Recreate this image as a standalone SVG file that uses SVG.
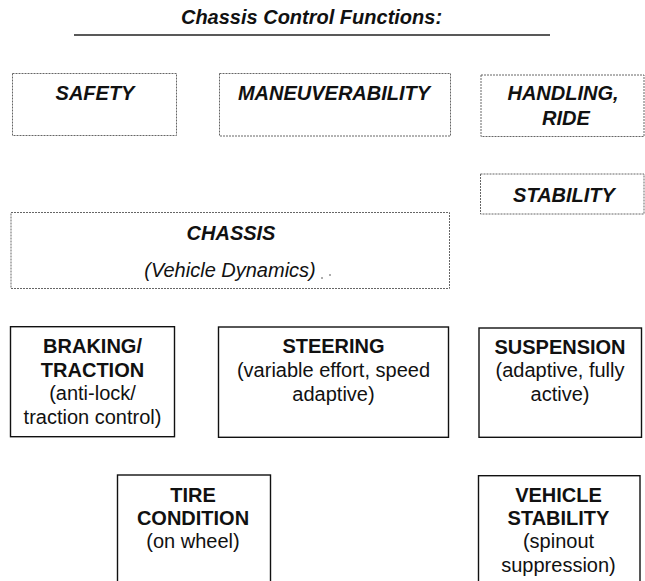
<svg xmlns="http://www.w3.org/2000/svg" width="645" height="581" viewBox="0 0 645 581">
<style>
  .bg { fill: #ffffff; }
  .dbox { fill: none; stroke: #666; stroke-width: 1; stroke-dasharray: 2 1; }
  .sbox { fill: none; stroke: #111; stroke-width: 1.4; }
  .it { font-family: "Liberation Sans", Arial, sans-serif; font-size: 20px; font-style: italic; fill: #111; text-anchor: middle; }
  .bi { font-weight: bold; }
  .t { font-family: "Liberation Sans", Arial, sans-serif; font-size: 20px; fill: #111; text-anchor: middle; }
  .b { font-weight: bold; }
</style>
<rect class="bg" x="0" y="0" width="645" height="581"/>
<g id="title">
  <text class="it bi" x="311.5" y="24">Chassis Control Functions:</text>
  <line x1="74" y1="35" x2="550" y2="35" stroke="#222" stroke-width="1.5"/>
</g>
<g id="connectors"></g>
<g id="safety">
  <rect class="dbox" x="12.5" y="73.5" width="164" height="62"/>
  <text class="it bi" x="95" y="100">SAFETY</text>
</g>
<g id="maneuverability">
  <rect class="dbox" x="219.5" y="73.5" width="231" height="62.5"/>
  <text class="it bi" x="334" y="100">MANEUVERABILITY</text>
</g>
<g id="handling">
  <rect class="dbox" x="481" y="75" width="163" height="61.5"/>
  <text class="it bi" x="563" y="100">HANDLING,</text>
  <text class="it bi" x="566" y="125">RIDE</text>
</g>
<g id="stability">
  <rect class="dbox" x="480.5" y="174" width="163.5" height="40"/>
  <text class="it bi" x="564" y="201.5">STABILITY</text>
</g>
<g id="chassis">
  <rect class="dbox" x="11" y="212.5" width="438.5" height="76"/>
  <text class="it bi" x="231" y="240">CHASSIS</text>
  <text class="it" x="230" y="276.5">(Vehicle Dynamics)</text>
  <circle cx="322" cy="278" r="0.8" fill="#444"/>
  <circle cx="330" cy="275" r="0.8" fill="#444"/>
</g>
<g id="braking">
  <rect class="sbox" x="10.5" y="326.7" width="164" height="110"/>
  <text class="t b" x="92.5" y="353.3">BRAKING/</text>
  <text class="t b" x="92.5" y="377.3">TRACTION</text>
  <text class="t" x="92.5" y="400">(anti-lock/</text>
  <text class="t" x="92.5" y="424">traction control)</text>
</g>
<g id="steering">
  <rect class="sbox" x="218.5" y="327" width="230" height="110.3"/>
  <text class="t b" x="333.5" y="353.3">STEERING</text>
  <text class="t" x="333.5" y="377">(variable effort, speed</text>
  <text class="t" x="333.5" y="400.7">adaptive)</text>
</g>
<g id="suspension">
  <rect class="sbox" x="479" y="328" width="162.5" height="109.3"/>
  <text class="t b" x="560" y="354">SUSPENSION</text>
  <text class="t" x="560" y="377">(adaptive, fully</text>
  <text class="t" x="560" y="401">active)</text>
</g>
<g id="tire">
  <rect class="sbox" x="117.5" y="475" width="153" height="120"/>
  <text class="t b" x="193" y="501.7">TIRE</text>
  <text class="t b" x="193" y="525">CONDITION</text>
  <text class="t" x="193" y="548">(on wheel)</text>
</g>
<g id="vehicle-stability">
  <rect class="sbox" x="478.5" y="475.7" width="161.5" height="120"/>
  <text class="t b" x="558.5" y="501.7">VEHICLE</text>
  <text class="t b" x="558.5" y="525">STABILITY</text>
  <text class="t" x="558.5" y="548">(spinout</text>
  <text class="t" x="558.5" y="571.7">suppression)</text>
</g>
</svg>
